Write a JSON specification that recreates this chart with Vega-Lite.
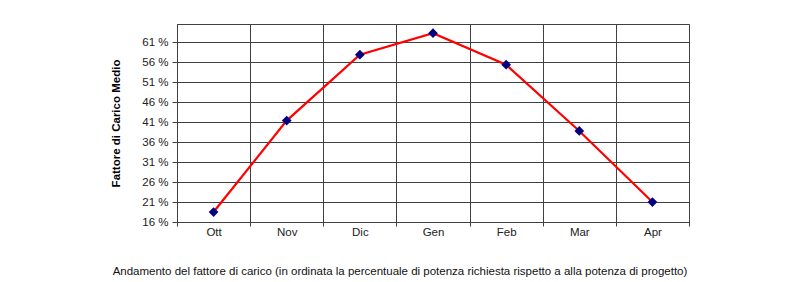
{
  "$schema": "https://vega.github.io/schema/vega-lite/v6.json",
  "width": 512,
  "height": 198,
  "autosize": {"type": "none"},
  "padding": {"left": 177, "top": 24, "right": 111, "bottom": 60},
  "background": "white",
  "config": {
    "font": "Liberation Sans",
    "view": {"stroke": "#404040", "strokeWidth": 1},
    "axis": {
      "labelFont": "Liberation Sans",
      "titleFont": "Liberation Sans",
      "labelFontSize": 11.5,
      "labelColor": "#222222",
      "domainColor": "#404040",
      "tickColor": "#404040",
      "gridColor": "#404040",
      "gridOpacity": 1,
      "gridWidth": 1
    }
  },
  "title": {
    "text": "Andamento del fattore di carico (in ordinata la percentuale di potenza richiesta rispetto a alla potenza di progetto)",
    "orient": "bottom",
    "anchor": "middle",
    "frame": "group",
    "dx": -33,
    "offset": 28,
    "fontSize": 11.5,
    "fontWeight": "normal",
    "font": "Liberation Sans",
    "color": "#111111"
  },
  "data": {
    "values": [
      {"mese": "Ott", "fattore": 18.5},
      {"mese": "Nov", "fattore": 41.4},
      {"mese": "Dic", "fattore": 57.9},
      {"mese": "Gen", "fattore": 63.3},
      {"mese": "Feb", "fattore": 55.4},
      {"mese": "Mar", "fattore": 38.8},
      {"mese": "Apr", "fattore": 21.0}
    ]
  },
  "encoding": {
    "x": {
      "field": "mese",
      "type": "ordinal",
      "sort": null,
      "scale": {"paddingInner": 0, "paddingOuter": 0},
      "axis": {
        "title": null,
        "labelAngle": 0,
        "tickBand": "extent",
        "grid": true,
        "tickSize": 4,
        "labelPadding": 0
      }
    },
    "y": {
      "field": "fattore",
      "type": "quantitative",
      "scale": {"domain": [16, 65.6], "nice": false, "zero": false},
      "axis": {
        "title": "Fattore di Carico Medio",
        "titleFontSize": 11.5,
        "titleFontWeight": "bold",
        "titleColor": "#000000",
        "titlePadding": 20,
        "values": [16, 21, 26, 31, 36, 41, 46, 51, 56, 61],
        "labelExpr": "datum.value + ' %'",
        "tickSize": 5,
        "labelPadding": 4,
        "grid": true
      }
    }
  },
  "layer": [
    {"mark": {"type": "line", "color": "#FF0000", "strokeWidth": 2.2}},
    {"mark": {"type": "point", "shape": "diamond", "filled": true, "color": "#000080", "opacity": 1, "size": 95}}
  ]
}
